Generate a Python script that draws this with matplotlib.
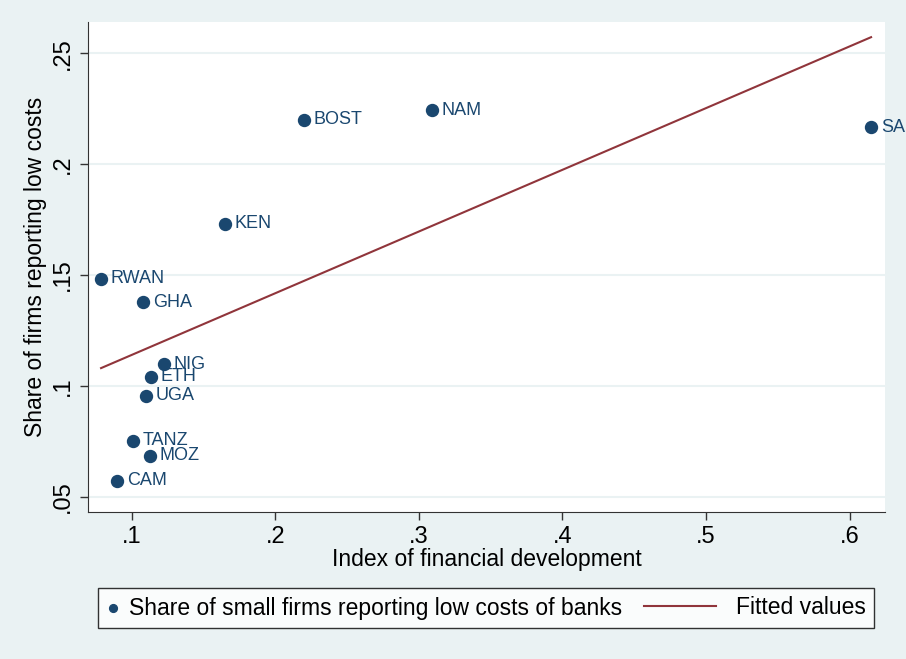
import numpy as np
import matplotlib
matplotlib.use("Agg")
import matplotlib.pyplot as plt
from matplotlib.legend_handler import HandlerLine2D

plt.rcParams['font.family'] = ['Liberation Sans', 'DejaVu Sans']

countries = ["SA", "NAM", "BOST", "KEN", "RWAN", "GHA", "NIG", "ETH", "UGA", "TANZ", "MOZ", "CAM"]
fin_dev = [0.615, 0.309, 0.220, 0.165, 0.0786, 0.1079, 0.1224, 0.1134, 0.1097, 0.1008, 0.1127, 0.0897]
low_cost = [0.2167, 0.2244, 0.2199, 0.1730, 0.1482, 0.1378, 0.1098, 0.1040, 0.0955, 0.0752, 0.0684, 0.0573]

x_ticks = [0.1, 0.2, 0.3, 0.4, 0.5, 0.6]
x_tick_labels = [".1", ".2", ".3", ".4", ".5", ".6"]
y_ticks = [0.05, 0.10, 0.15, 0.20, 0.25]
y_tick_labels = [".05", ".1", ".15", ".2", ".25"]

navy = "#1A476F"
maroon = "#90353B"
bg = "#EAF2F3"


# legend line drawn longer, to the left of its (short) handle box
class LongLine(HandlerLine2D):
    def get_xdata(self, legend, xdescent, ydescent, width, height, fontsize):
        xd = np.array([-xdescent - 50, -xdescent + 2])
        return xd, xd


fig = plt.figure(figsize=(9.06, 6.59), dpi=100, facecolor=bg)
ax = fig.add_axes([88 / 906, 1 - 512 / 659, (885 - 88) / 906, (512 - 22) / 659])
ax.set_facecolor("white")

x = np.array(fin_dev)
y = np.array(low_cost)
b, a = np.polyfit(x, y, 1)
xs = np.array([x.min(), x.max()])

pts = ax.scatter(x, y, s=74, color=navy, zorder=3,
                 label="Share of small firms reporting low costs of banks")
fit, = ax.plot(xs, a + b * xs, color=maroon, lw=1.5, zorder=2, label="Fitted values")

for name, xi, yi in zip(countries, fin_dev, low_cost):
    ax.annotate(name, (xi, yi), xytext=(7, 0), textcoords="offset points",
                va="center", ha="left", fontsize=13, color=navy, zorder=4)

ax.set_xlim(0.0695, 0.6247)
ax.set_ylim(0.0431, 0.2641)
ax.set_xticks(x_ticks)
ax.set_xticklabels(x_tick_labels)
ax.set_yticks(y_ticks)
ax.set_yticklabels(y_tick_labels, rotation=90, va="center")
ax.tick_params(axis="both", labelsize=17, length=6, width=1, color="#333333", pad=4)
ax.grid(axis="y", color=bg, lw=1.5)
ax.set_axisbelow(True)
for side in ["top", "right"]:
    ax.spines[side].set_visible(False)
for side in ["left", "bottom"]:
    ax.spines[side].set_color("#333333")

ax.set_xlabel("Index of financial development", fontsize=16.5, labelpad=0)
ax.set_ylabel("Share of firms reporting low costs", fontsize=16.5, labelpad=4)

leg = fig.legend(handles=[pts, fit], loc="center", bbox_to_anchor=(486 / 906, 1 - 608 / 659),
                 ncol=2, frameon=True, fancybox=False, edgecolor="black", fontsize=16.5,
                 handlelength=0.6, columnspacing=4.0, handletextpad=0.4, borderpad=0.35,
                 markerscale=0.65, scatterpoints=1, handler_map={fit: LongLine()})
leg.get_frame().set_linewidth(1.0)

fig.savefig("out.png", dpi=100, facecolor=bg)
